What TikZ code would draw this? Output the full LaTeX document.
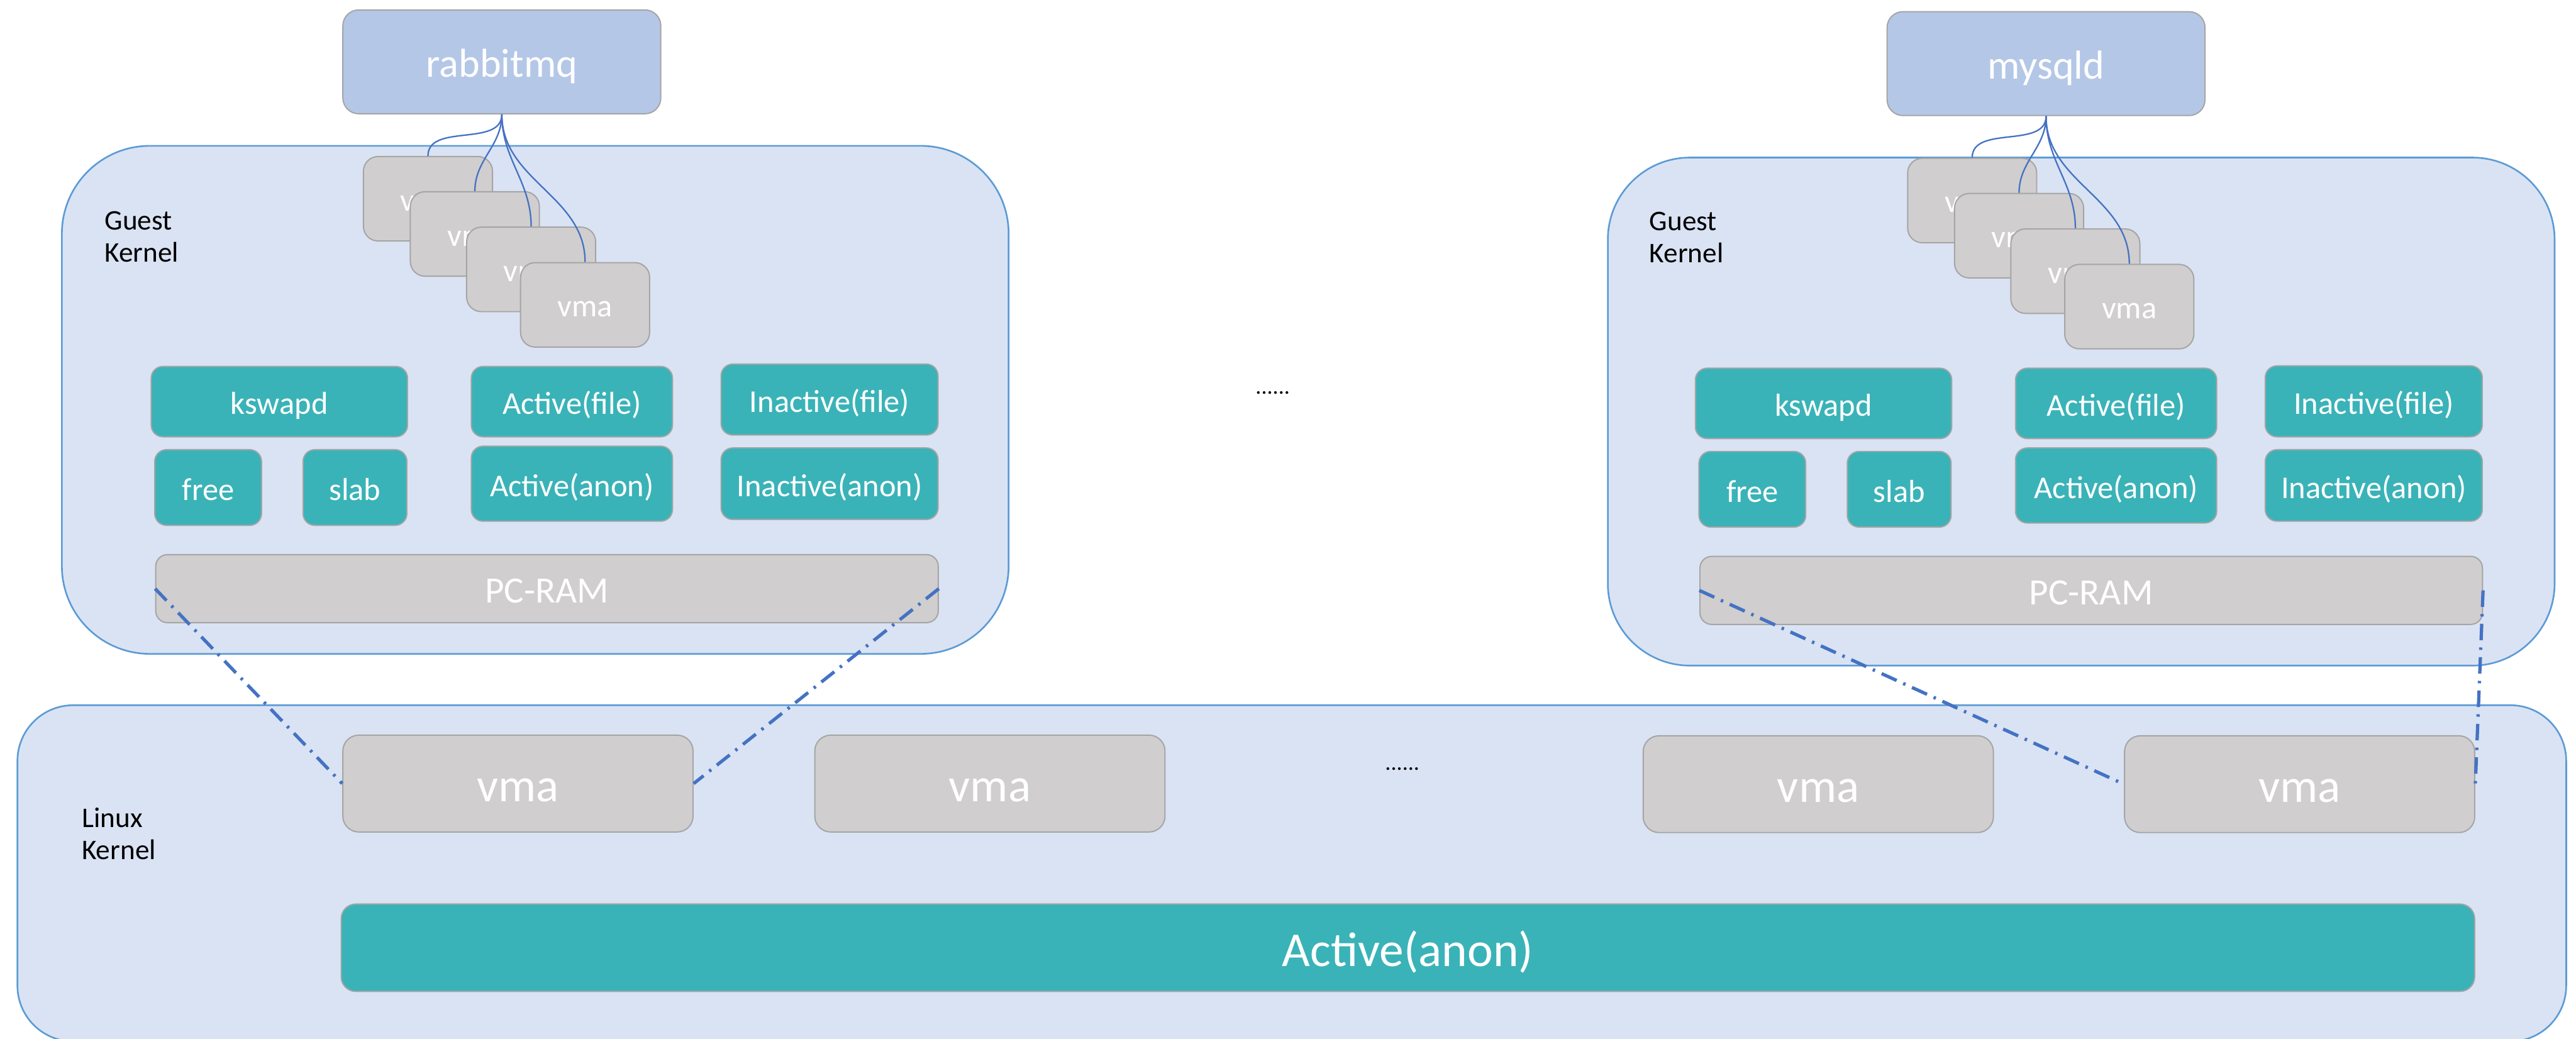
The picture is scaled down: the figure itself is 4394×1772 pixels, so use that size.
\documentclass[tikz,border=0pt]{standalone}
\usepackage{fontspec}
\setmainfont{Carlito}
\usepackage{xcolor}
\usetikzlibrary{positioning}

\definecolor{kernelfill}{HTML}{DAE3F3}
\definecolor{kernelline}{HTML}{5B9BD5}
\definecolor{appfill}{HTML}{B4C7E7}
\definecolor{vmafill}{HTML}{D0CECE}
\definecolor{boxline}{HTML}{A5A5A5}
\definecolor{lrufill}{HTML}{3AB3B8}
\definecolor{linkblue}{HTML}{4472C4}

\tikzset{
	kernel/.style={draw=kernelline, fill=kernelfill, line width=0.8pt, inner sep=0pt},
	% baseline sits text height/2 below the box centre
	boxtext/.style={text=white, inner sep=0pt, text depth=0pt},
	app/.style={boxtext, draw=boxline, fill=appfill, line width=0.6pt, rounded corners=0.27cm,
		font=\fontsize{19.6}{22}\selectfont, text height=14.9pt,
		minimum width=5.42cm, minimum height=1.77cm},
	vmabox/.style={boxtext, draw=boxline, fill=vmafill, line width=0.6pt, rounded corners=0.25cm,
		font=\fontsize{15.4}{18}\selectfont, text height=11.7pt,
		minimum width=2.2cm, minimum height=1.44cm},
	hostvma/.style={vmabox, rounded corners=0.27cm, font=\fontsize{23}{26}\selectfont,
		text height=17.5pt, minimum width=5.97cm, minimum height=1.65cm},
	lru/.style={boxtext, draw=boxline, fill=lrufill, line width=0.6pt, rounded corners=0.2cm,
		font=\fontsize{15.4}{18}\selectfont, text height=12.4pt},
	ram/.style={vmabox, rounded corners=0.2cm, font=\fontsize{18}{20}\selectfont,
		text height=13.7pt, minimum width=13.34cm, minimum height=1.16cm},
	% base = baseline of the second line
	tag/.style={font=\fontsize{13.8}{15.6}\selectfont, align=left, anchor=base west, inner sep=0pt},
	more/.style={font=\fontsize{11}{12}\selectfont, anchor=base, inner sep=0pt},
	thread/.style={draw=linkblue, line width=0.7pt},
	mapping/.style={draw=linkblue, line width=1.6pt, dash pattern=on 8pt off 3.5pt on 1.2pt off 3.5pt}
}

\begin{document}
\begin{tikzpicture}[x=0.01cm, y=-0.01cm]
	\useasboundingbox (0,0) rectangle (4394,1772);

	% host and the two guests
	\node[kernel, rounded corners=0.95cm, minimum width=43.45cm, minimum height=5.73cm] (host) at (2203.5,1489.5) {};
	\node[kernel, rounded corners=1.5cm, minimum width=16.14cm, minimum height=8.66cm] (guestL) at (913,682) {};
	\node[kernel, rounded corners=1.4cm, minimum width=16.14cm, minimum height=8.66cm] (guestR) at (3550,702) {};

	\node[tag] (guestLtag) at (178,447) {Guest\\Kernel};
	\node[tag] (guestRtag) at (2813,448) {Guest\\Kernel};
	\node[tag] (hosttag) at (139,1466) {Linux\\Kernel};

	% one guest: process, its vmas, lru lists, memory
	\foreach \app/\g/\dx/\dy in {rabbitmq/L/0/0, mysqld/R/2634/3} {
		\begin{scope}[shift={(\dx,\dy)}]
			\node[app] (app\g) at (856,105.5) {\app};
			\node[vmabox] (vma\g1) at (730,339) {vma};
			\node[vmabox] (vma\g2) at (810,399) {vma};
			\node[vmabox] (vma\g3) at (906,459.5) {vma};
			\node[vmabox] (vma\g4) at (998,520) {vma};
			\foreach \i in {1,...,4}
				\draw[thread] (app\g.south) to[out=-90, in=90] (vma\g\i.north);

			\node[lru, minimum width=4.37cm, minimum height=1.2cm] (kswapd\g) at (476.5,685) {kswapd};
			\node[lru, minimum width=1.82cm, minimum height=1.29cm] (free\g) at (355,831.5) {free};
			\node[lru, minimum width=1.77cm, minimum height=1.29cm] (slab\g) at (605.5,831.5) {slab};
			\node[lru, minimum width=3.43cm, minimum height=1.2cm] (actfile\g) at (975.5,685) {Active(file)};
			\node[lru, minimum width=3.43cm, minimum height=1.28cm] (actanon\g) at (975.5,825) {Active(anon)};
			\node[lru, minimum width=3.7cm, minimum height=1.21cm] (inactfile\g) at (1415,681.5) {Inactive(file)};
			\node[lru, minimum width=3.7cm, minimum height=1.22cm] (inactanon\g) at (1415,825) {Inactive(anon)};
			\node[ram] (pcram\g) at (933,1004) {PC-RAM};
		\end{scope}
	}

	\node[more] (gapguest) at (2171,672) {......};

	% host side
	\node[hostvma] (kvma1) at (883.5,1336.5) {vma};
	\node[hostvma] (kvma2) at (1688.5,1336.5) {vma};
	\node[hostvma] (kvma3) at (3101.5,1337.5) {vma};
	\node[hostvma] (kvma4) at (3922.5,1337.5) {vma};
	\node[more] (gaphost) at (2392,1314) {......};
	\node[lru, rounded corners=0.25cm, font=\fontsize{23.6}{26}\selectfont, text height=17.9pt,
		minimum width=36.37cm, minimum height=1.49cm] (hostanon) at (2401.5,1616.5) {Active(anon)};

	% guest memory backed by host vmas
	\draw[mapping] (pcramL.west) -- (kvma1.west);
	\draw[mapping] (pcramL.east) -- (kvma1.east);
	\draw[mapping] (pcramR.west) -- (kvma4.west);
	\draw[mapping] (pcramR.east) -- (kvma4.east);
\end{tikzpicture}
\end{document}
